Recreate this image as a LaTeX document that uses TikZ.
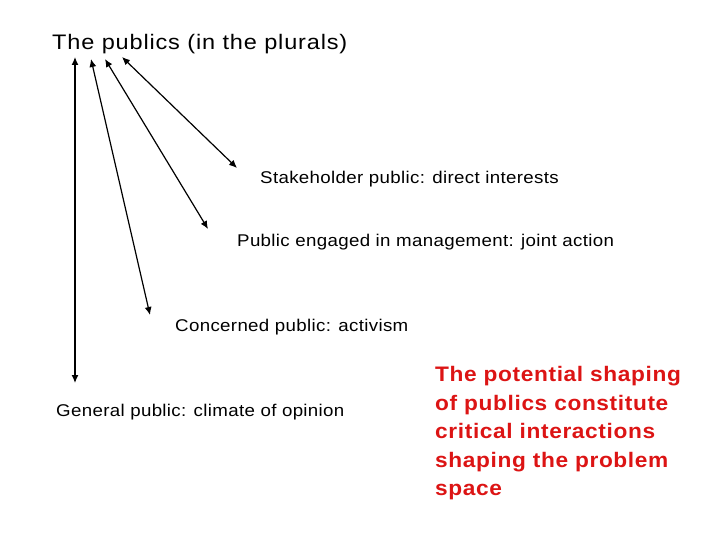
\documentclass[tikz,border=0pt]{standalone}
\usepackage{fontspec}
\setmainfont{Liberation Sans}
\newfontfamily\titlefont[FakeStretch=1.12,LetterSpace=4]{Liberation Sans}
\newfontfamily\lblfont[FakeStretch=1.1,LetterSpace=2]{Liberation Sans}
\newfontfamily\redfont[FakeStretch=1.08,LetterSpace=3]{Liberation Sans Bold}
\usetikzlibrary{arrows.meta}
\definecolor{redtxt}{RGB}{220,20,20}
\begin{document}
\begin{tikzpicture}[x=1pt,y=-1pt,
  lbl/.style={anchor=west,inner sep=0pt,font=\lblfont\fontsize{17}{19}\selectfont},
  arr/.style={{Latex[length=8pt,width=7pt]}-{Latex[length=8pt,width=7pt]},line width=1.2pt}]
\useasboundingbox (0,0) rectangle (720,540);
\node[anchor=west,inner sep=0pt,font=\titlefont\fontsize{21}{24}\selectfont] (title) at (52,44) {The publics (in the plurals)};
\node[lbl] (s) at (260,179) {Stakeholder public: direct interests};
\node[lbl] (p) at (237,242) {Public engaged in management: joint action};
\node[lbl] (c) at (175,327) {Concerned public: activism};
\node[lbl] (g) at (56,412) {General public: climate of opinion};
\node[anchor=north west,inner sep=0pt,align=left,text=redtxt,font=\redfont\fontsize{21}{28.6}\selectfont] (red) at (435,366) {The potential shaping\\of publics constitute\\critical interactions\\shaping the problem\\space};
\coordinate (a1) at (75,57); \coordinate (b1) at (75,383);
\coordinate (a2) at (91,59); \coordinate (b2) at (150,315);
\coordinate (a3) at (105,59); \coordinate (b3) at (208,229);
\coordinate (a4) at (122,57); \coordinate (b4) at (237,168);
\draw[arr] (a1) -- (b1);
\draw[arr] (a2) -- (b2);
\draw[arr] (a3) -- (b3);
\draw[arr] (a4) -- (b4);
\end{tikzpicture}
\end{document}
